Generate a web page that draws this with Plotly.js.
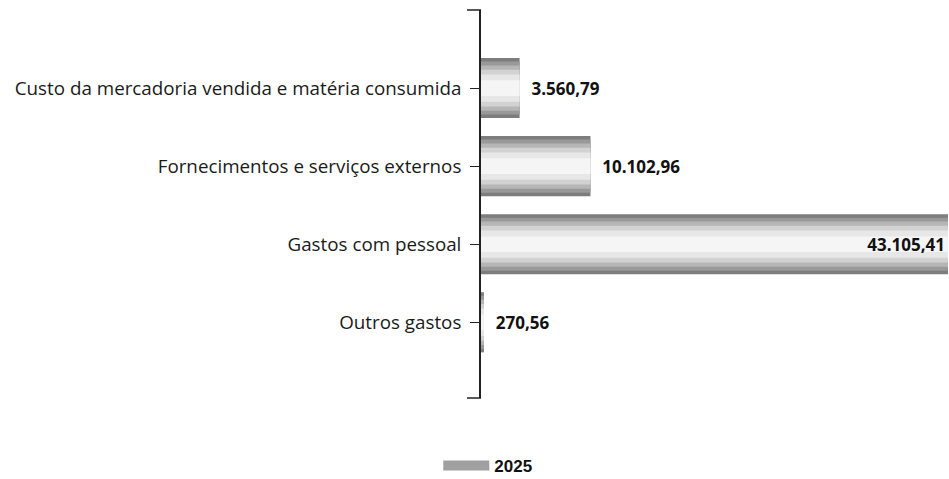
<!DOCTYPE html>
<html>
<head>
<meta charset="utf-8">
<script src="https://cdn.plot.ly/plotly-3.0.1.min.js"></script>
<style>html,body{margin:0;padding:0;background:#fff;}#chart{width:949px;height:479px;}</style>
</head>
<body>
<div id="chart"></div>
<script>
const categories = [
  "Custo da mercadoria vendida e matéria consumida",
  "Fornecimentos e serviços externos",
  "Gastos com pessoal",
  "Outros gastos"
];
const values2025 = [3560.79, 10102.96, 43105.41, 270.56];
const seriesName = "2025";
const labelPositions = ["outside", "outside", "inside", "outside"];

// cylinder-like shading: overlaid bars from outer (dark) to inner (light)
const shadeWidths = [0.77, 0.68, 0.58, 0.47, 0.35, 0.2];
const shadeColors = ["#7d7d7d", "#999999", "#b6b6b6", "#d2d2d2", "#e7e7e7", "#f5f5f5"];

const traces = shadeWidths.map((w, i) => ({
  type: "bar",
  orientation: "h",
  y: categories,
  x: values2025,
  width: w,
  name: seriesName,
  showlegend: false,
  legendgroup: "g",
  marker: {color: shadeColors[i], line: {width: 0}},
  hoverinfo: "skip"
}));

traces.push({
  type: "bar",
  orientation: "h",
  y: categories,
  x: values2025,
  width: 0.77,
  name: seriesName,
  showlegend: false,
  legendgroup: "g",
  marker: {color: "rgba(0,0,0,0)", line: {width: 0}},
  texttemplate: labelPositions.map(p => p === "outside" ? "  %{x:,.2f}" : "%{x:,.2f}"),
  textposition: labelPositions,
  insidetextanchor: "end",
  textfont: {family: "Open Sans, Noto Sans, sans-serif", size: 17, color: "#111", weight: "bold"},
  cliponaxis: false
});

// legend entry for the series (wide key), kept on its own hidden axes
traces.push({
  type: "scatter",
  mode: "lines",
  x: [null],
  y: [null],
  xaxis: "x2",
  yaxis: "y2",
  name: seriesName,
  legendgroup: "g",
  showlegend: true,
  line: {color: "#a0a0a0", width: 13},
  hoverinfo: "skip"
});

const layout = {
  width: 949,
  height: 479,
  margin: {l: 481, r: 0, t: 10, b: 81},
  paper_bgcolor: "#fff",
  plot_bgcolor: "#fff",
  separators: ",.",
  barmode: "overlay",
  showlegend: true,
  legend: {
    orientation: "h",
    xref: "container", yref: "container",
    x: 0.514, xanchor: "center",
    y: 0.027, yanchor: "middle",
    itemwidth: 46,
    font: {family: "Liberation Sans, Arial, sans-serif", size: 17, color: "#111", weight: "bold"}
  },
  xaxis: {
    range: [0, 43200],
    visible: false,
    showgrid: false,
    zeroline: false
  },
  xaxis2: {overlaying: "x", visible: false},
  yaxis2: {overlaying: "y", visible: false},
  yaxis: {
    type: "category",
    range: [3.97, -1],
    showline: true,
    linecolor: "#222",
    linewidth: 2,
    ticks: "outside",
    ticklen: 9,
    tickcolor: "#222",
    tickwidth: 1,
    showgrid: false,
    zeroline: false,
    ticksuffix: " ",
    tickfont: {family: "Open Sans, Noto Sans, sans-serif", size: 18.8, color: "#1a1a1a"}
  },
  shapes: [
    {type: "line", xref: "paper", yref: "paper", x0: -0.03, x1: 0, y0: 1, y1: 1, line: {color: "#222", width: 1.5}},
    {type: "line", xref: "paper", yref: "paper", x0: -0.03, x1: 0, y0: 0, y1: 0, line: {color: "#222", width: 1.5}}
  ]
};

Plotly.newPlot("chart", traces, layout, {displayModeBar: false, staticPlot: true});
</script>
</body>
</html>
